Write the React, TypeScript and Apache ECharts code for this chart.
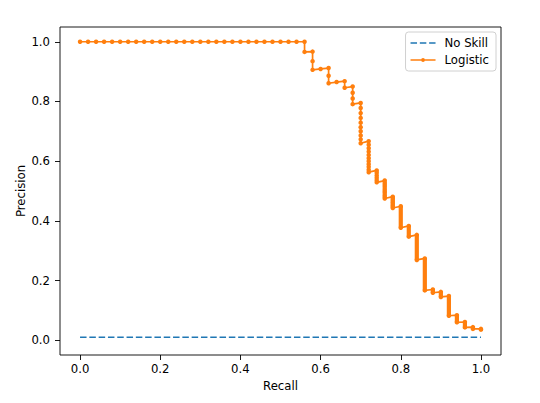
import React, { useEffect, useRef } from "react";
import * as echarts from "echarts";

// Tick values
const xTicks = [0, 0.2, 0.4, 0.6, 0.8, 1.0];
const yTicks = [0, 0.2, 0.4, 0.6, 0.8, 1.0];

// No Skill baseline
const noSkillRecall = [0, 1];
const noSkillPrecision = [0.01, 0.01];

// Logistic precision-recall points (recall, precision)
const logisticPoints: [number, number][] = [
  [0.0, 1], [0.02, 1], [0.04, 1], [0.06, 1], [0.08, 1], [0.1, 1], [0.12, 1], [0.14, 1],
  [0.16, 1], [0.18, 1], [0.2, 1], [0.22, 1], [0.24, 1], [0.26, 1], [0.28, 1], [0.3, 1],
  [0.32, 1], [0.34, 1], [0.36, 1], [0.38, 1], [0.4, 1], [0.42, 1], [0.44, 1], [0.46, 1],
  [0.48, 1], [0.5, 1], [0.52, 1], [0.54, 1], [0.56, 1],
  [0.56, 0.966],
  [0.58, 0.967], [0.58, 0.935], [0.58, 0.906],
  [0.6, 0.909],
  [0.62, 0.912], [0.62, 0.886], [0.62, 0.861],
  [0.64, 0.865],
  [0.66, 0.868], [0.66, 0.846],
  [0.68, 0.85], [0.68, 0.829], [0.68, 0.81], [0.68, 0.791],
  [0.7, 0.795], [0.7, 0.778], [0.7, 0.761], [0.7, 0.745], [0.7, 0.729], [0.7, 0.714],
  [0.7, 0.7], [0.7, 0.686], [0.7, 0.673], [0.7, 0.66],
  [0.72, 0.667], [0.72, 0.655], [0.72, 0.643], [0.72, 0.632], [0.72, 0.621], [0.72, 0.61],
  [0.72, 0.6], [0.72, 0.59], [0.72, 0.581], [0.72, 0.571], [0.72, 0.563],
  [0.74, 0.569], [0.74, 0.561], [0.74, 0.552], [0.74, 0.544], [0.74, 0.536], [0.74, 0.529],
  [0.76, 0.535], [0.76, 0.528], [0.76, 0.521], [0.76, 0.514], [0.76, 0.507], [0.76, 0.5],
  [0.76, 0.494], [0.76, 0.487], [0.76, 0.481], [0.76, 0.475],
  [0.78, 0.481], [0.78, 0.476], [0.78, 0.47], [0.78, 0.464], [0.78, 0.459], [0.78, 0.453],
  [0.78, 0.448], [0.78, 0.443],
  [0.8, 0.449], [0.8, 0.377],
  [0.82, 0.383], [0.82, 0.347],
  [0.84, 0.353], [0.84, 0.269],
  [0.86, 0.274], [0.86, 0.167],
  [0.88, 0.17], [0.88, 0.159],
  [0.9, 0.162], [0.9, 0.145],
  [0.92, 0.148], [0.92, 0.082],
  [0.94, 0.084], [0.94, 0.06],
  [0.96, 0.061], [0.96, 0.043],
  [0.98, 0.044], [0.98, 0.038],
  [1.0, 0.038], [1.0, 0.0355],
];

// Dense runs of thresholds at constant recall (drawn thick where markers overlap)
const runRecall = [0.8, 0.82, 0.84, 0.86, 0.88, 0.9, 0.92, 0.94, 0.96, 0.98, 1.0];
const runTop = [0.449, 0.383, 0.353, 0.274, 0.17, 0.162, 0.148, 0.084, 0.061, 0.044, 0.038];
const runBottom = [0.377, 0.347, 0.269, 0.167, 0.159, 0.145, 0.082, 0.06, 0.043, 0.038, 0.0355];

const BLUE = "#1f77b4";
const ORANGE = "#ff7f0e";
const FONT = "DejaVu Sans";
const FS = 11.7;

const DASH_ICON = "path://M0,6.15h6.5v1.7h-6.5z M9.3,6.15h6.5v1.7h-6.5z M18.6,6.15h6.4v1.7h-6.4z";
const DOT_LINE_ICON =
  "path://M0,6.15h25v1.7h-25z M10.6,7a1.9,1.9 0 1,1 3.8,0a1.9,1.9 0 1,1 -3.8,0z";

export default function App() {
  const ref = useRef<HTMLDivElement>(null);

  useEffect(() => {
    if (!ref.current) return;
    const chart = echarts.init(ref.current, undefined, { renderer: "svg" });

    const runSeries = runRecall.map((r, i) => ({
      type: "line",
      name: "run" + i,
      data: [
        [r, runTop[i]],
        [r, runBottom[i]],
      ],
      symbol: "none",
      silent: true,
      lineStyle: { color: ORANGE, width: 4.2, cap: "butt" },
      z: 3,
    }));

    const axisCommon = {
      type: "value",
      nameLocation: "middle",
      nameMoveOverlap: false,
      nameTextStyle: { fontFamily: FONT, fontSize: FS, color: "#000" },
      axisLine: { show: false, onZero: false },
      splitLine: { show: false },
    };

    chart.setOption({
      animation: false,
      grid: {
        left: 60,
        top: 27,
        width: 441,
        height: 328,
        show: true,
        borderColor: "#000",
        borderWidth: 0.9,
        backgroundColor: "transparent",
      },
      legend: {
        data: [
          { name: "No Skill", icon: DASH_ICON },
          { name: "Logistic", icon: DOT_LINE_ICON },
        ],
        orient: "vertical",
        right: 44,
        top: 32,
        padding: [5, 7, 5, 5],
        itemWidth: 25,
        itemHeight: 14,
        itemGap: 5,
        backgroundColor: "rgba(255,255,255,0.8)",
        borderColor: "#d0d0d0",
        borderWidth: 1,
        borderRadius: 3,
        textStyle: { fontFamily: FONT, fontSize: FS, color: "#000", padding: [0, 0, 0, 4] },
      },
      xAxis: {
        ...axisCommon,
        min: -0.05,
        max: 1.05,
        name: "Recall",
        nameGap: 25,
        axisTick: {
          show: true,
          inside: false,
          length: 5,
          customValues: xTicks,
          lineStyle: { color: "#000", width: 0.9 },
        },
        axisLabel: {
          customValues: xTicks,
          formatter: (v: number) => v.toFixed(1),
          margin: 8,
          fontFamily: FONT,
          fontSize: FS,
          color: "#000",
        },
      },
      yAxis: {
        ...axisCommon,
        min: -0.0495,
        max: 1.0495,
        name: "Precision",
        nameRotate: 90,
        nameGap: 33,
        axisTick: {
          show: true,
          inside: false,
          length: 5,
          customValues: yTicks,
          lineStyle: { color: "#000", width: 0.9 },
        },
        axisLabel: {
          customValues: yTicks,
          formatter: (v: number) => v.toFixed(1),
          margin: 10,
          fontFamily: FONT,
          fontSize: FS,
          color: "#000",
        },
      },
      series: [
        {
          type: "line",
          name: "No Skill",
          data: noSkillRecall.map((r, i) => [r, noSkillPrecision[i]]),
          symbol: "none",
          lineStyle: { color: BLUE, width: 1.7, type: [6.5, 2.8] },
          itemStyle: { color: BLUE },
          z: 2,
        },
        {
          type: "line",
          name: "Logistic",
          data: logisticPoints,
          symbol: "circle",
          symbolSize: 4.5,
          showSymbol: true,
          showAllSymbol: true,
          lineStyle: { color: ORANGE, width: 1.7 },
          itemStyle: { color: ORANGE },
          z: 4,
        },
        ...runSeries,
      ],
    });

    return () => chart.dispose();
  }, []);

  return (
    <div
      ref={ref}
      style={{ position: "fixed", left: 0, top: 0, width: 540, height: 403, background: "#fff" }}
    />
  );
}
